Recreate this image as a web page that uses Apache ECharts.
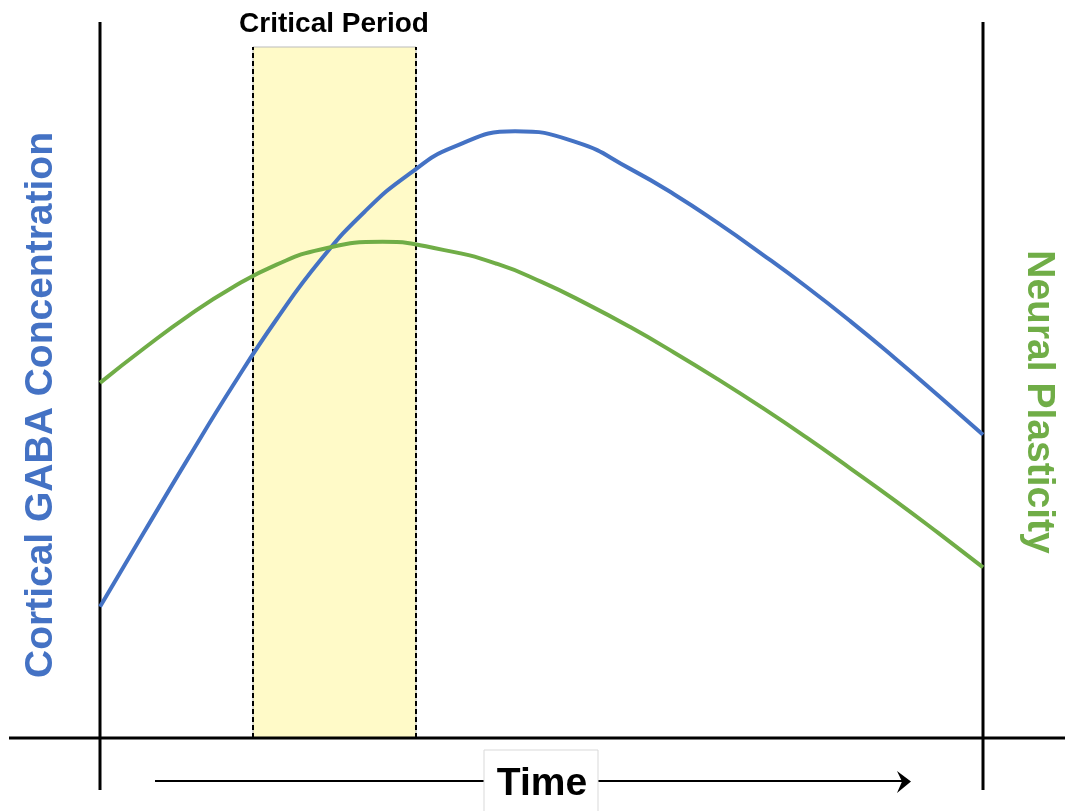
<!DOCTYPE html>
<html>
<head>
<meta charset="utf-8">
<script src="https://cdn.jsdelivr.net/npm/echarts@6/dist/echarts.min.js"></script>
<style>html,body{margin:0;padding:0;background:#fff;}#c{width:1065px;height:811px;}</style>
</head>
<body>
<div id="c"></div>
<script>
// Cortical GABA concentration (blue): time (0–100) and level
var gabaTime   = [0, 5, 10, 15, 20, 25, 30, 35, 40, 47, 54, 60, 65, 70, 75, 80, 85, 90, 95, 100];
var gabaValues = [19.0, 29.8, 40.5, 50.9, 60.6, 69.2, 76.2, 81.6, 85.5, 87.8, 86.2, 82.4, 78.7, 74.5, 70.0, 65.3, 60.3, 55.0, 49.5, 43.9];
// Neural plasticity (green): time (0–100) and level
var plasticityTime   = [0, 5, 10, 15, 20, 25, 32, 39, 45, 50, 55, 60, 65, 70, 75, 80, 85, 90, 95, 100];
var plasticityValues = [51.4, 56.4, 61.1, 65.2, 68.5, 70.7, 71.8, 70.6, 68.6, 66.0, 62.9, 59.5, 55.8, 51.9, 47.8, 43.5, 39.0, 34.4, 29.6, 24.7];
// Critical period window on the time axis
var criticalStart = 17.33;
var criticalEnd = 35.79;

function pairs(xs, ys) { return xs.map(function (x, i) { return [x, ys[i]]; }); }

var chart = echarts.init(document.getElementById('c'));
var FONT = '"Liberation Sans", Arial, sans-serif';
chart.setOption({
  animation: false,
  backgroundColor: '#ffffff',
  grid: { left: 100, right: 82, top: 47, bottom: 73 },
  xAxis: { type: 'value', min: 0, max: 100, show: false },
  yAxis: { type: 'value', min: 0, max: 100, show: false },
  graphic: [
    { type: 'line', z: 10, shape: { x1: 100, y1: 22, x2: 100, y2: 790 }, style: { stroke: '#000', lineWidth: 3 } },
    { type: 'line', z: 10, shape: { x1: 983, y1: 22, x2: 983, y2: 790 }, style: { stroke: '#000', lineWidth: 3 } },
    { type: 'line', z: 10, shape: { x1: 9, y1: 738, x2: 1065, y2: 738 }, style: { stroke: '#000', lineWidth: 3 } },
    { type: 'line', z: 10, shape: { x1: 155, y1: 781, x2: 903, y2: 781 }, style: { stroke: '#000', lineWidth: 2 } },
    { type: 'polygon', z: 10, shape: { points: [[897, 771], [911, 781.5], [897, 793], [902, 781.5]] }, style: { fill: '#000' } },
    { type: 'rect', z: 11, shape: { x: 484, y: 750, width: 114, height: 70 }, style: { fill: '#fff', stroke: '#d9d9d9', lineWidth: 1 } },
    { type: 'text', z: 12, x: 542, y: 784, style: { text: 'Time', font: 'bold 39px ' + FONT, fill: '#000', align: 'center', verticalAlign: 'middle' } },
    { type: 'text', z: 12, x: 334, y: 24, style: { text: 'Critical Period', font: 'bold 28px ' + FONT, fill: '#000', align: 'center', verticalAlign: 'middle' } },
    { type: 'text', z: 12, x: 41, y: 405, rotation: Math.PI / 2, style: { text: 'Cortical GABA Concentration', font: 'bold 39px ' + FONT, fill: '#4472C4', align: 'center', verticalAlign: 'middle' } },
    { type: 'text', z: 12, x: 1039, y: 402, rotation: -Math.PI / 2, style: { text: 'Neural Plasticity', font: 'bold 39px ' + FONT, fill: '#70AD47', align: 'center', verticalAlign: 'middle' } }
  ],
  series: [
    {
      name: 'Cortical GABA Concentration',
      type: 'line',
      data: pairs(gabaTime, gabaValues),
      smooth: 0.5,
      showSymbol: false,
      z: 20,
      lineStyle: { color: '#4472C4', width: 4 },
      markArea: {
        silent: true,
        itemStyle: { color: '#FFFAC8', borderColor: '#bbbbbb', borderWidth: 1 },
        data: [[{ xAxis: criticalStart, yAxis: 0 }, { xAxis: criticalEnd, yAxis: 100 }]]
      },
      markLine: {
        silent: true,
        symbol: 'none',
        label: { show: false },
        lineStyle: { color: '#000', type: [5, 3], width: 2 },
        data: [{ xAxis: criticalStart }, { xAxis: criticalEnd }]
      }
    },
    {
      name: 'Neural Plasticity',
      type: 'line',
      data: pairs(plasticityTime, plasticityValues),
      smooth: 0.5,
      showSymbol: false,
      z: 20,
      lineStyle: { color: '#70AD47', width: 4 }
    }
  ]
});
</script>
</body>
</html>
